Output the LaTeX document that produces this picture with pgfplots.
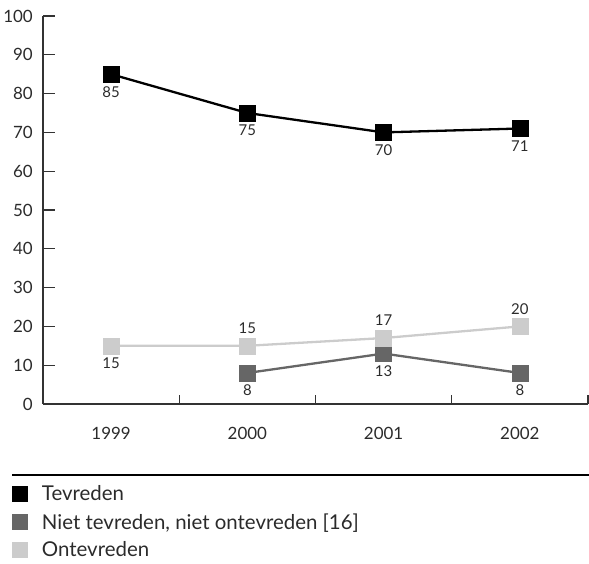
\documentclass[border=0pt]{standalone}
\usepackage{fontspec}
\setmainfont{Lato}
\usepackage{pgfplots}
\pgfplotsset{compat=1.18}
\usepackage{pgfplotstable}
\definecolor{txt}{HTML}{2B2B2B}
\definecolor{axc}{HTML}{333333}
\definecolor{midg}{HTML}{666666}
\definecolor{ltg}{HTML}{CCCCCC}

\pgfplotstableread{
x y dy
0 85 -17.5
1 75 -17.5
2 70 -17.5
3 71 -17.5
}\tevreden
\pgfplotstableread{
x y dy
1 8 -17.5
2 13 -17.5
3 8 -17.5
}\niet
\pgfplotstableread{
x y dy
0 15 -17.5
1 15 17.5
2 17 17.5
3 20 17.5
}\ontevreden

\begin{document}
\begin{tikzpicture}
\path[use as bounding box] (0bp,0bp) rectangle (589bp,564bp);
\begin{axis}[
  at={(43bp,160bp)}, anchor=south west, scale only axis,
  width=545bp, height=388bp,
  xmin=-0.5, xmax=3.5, ymin=0, ymax=100,
  axis x line*=bottom, axis y line*=left,
  axis line style={axc, line width=1.4bp},
  xtick={0,1,2,3}, xticklabels={1999,2000,2001,2002},
  minor xtick={0.5,1.5,2.5,3.5},
  major x tick style={draw=none},
  minor x tick style={axc, line width=1.2bp},
  minor tick length=9bp,
  ytick={0,10,...,100},
  y tick style={axc, line width=1.2bp},
  major tick length=12bp,
  tick align=inside,
  /pgf/number format/assume math mode=true,
  yticklabel style={inner sep=0pt, xshift=-10bp, font=\fontsize{17}{20}\selectfont, text=txt},
  xticklabel style={inner sep=0pt, yshift=-23bp, font=\fontsize{17}{20}\selectfont, text=txt},
  clip=false,
  nodes near coords,
  visualization depends on={\thisrow{dy} \as \dy},
  nodes near coords style={anchor=center, yshift=\dy bp, font=\fontsize{15}{18}\selectfont, text=txt, inner sep=0pt},
  legend style={at={(axis description cs:-0.0569,-0.1959)}, anchor=north west,
    draw=none, fill=none, inner sep=0pt, outer sep=0pt,
    font=\fontsize{20.5}{24}\selectfont, text=txt, row sep=0pt,
    nodes={inner sep=0pt}},
  legend cell align=left,
  legend image code/.code={\path[draw=none, fill=none] (0bp,-14bp) rectangle (30bp,14bp);
    \fill[#1, draw=none] (0bp,-8bp) rectangle (16bp,8bp);},
]
\addplot[black, line width=2.3bp, mark=square*, mark size=8bp, mark options={line width=0.3bp}] table[x=x,y=y] {\tevreden};
\addlegendentry{Tevreden}
\addplot[midg, line width=2.3bp, mark=square*, mark size=8bp, mark options={line width=0.3bp}] table[x=x,y=y] {\niet};
\addlegendentry{Niet tevreden, niet ontevreden [16]}
\addplot[ltg, line width=2.3bp, mark=square*, mark size=8bp, mark options={line width=0.3bp}] table[x=x,y=y] {\ontevreden};
\addlegendentry{Ontevreden}
\end{axis}
\draw[black, line width=2bp] (12bp,89bp) -- (589bp,89bp);
\end{tikzpicture}
\end{document}
